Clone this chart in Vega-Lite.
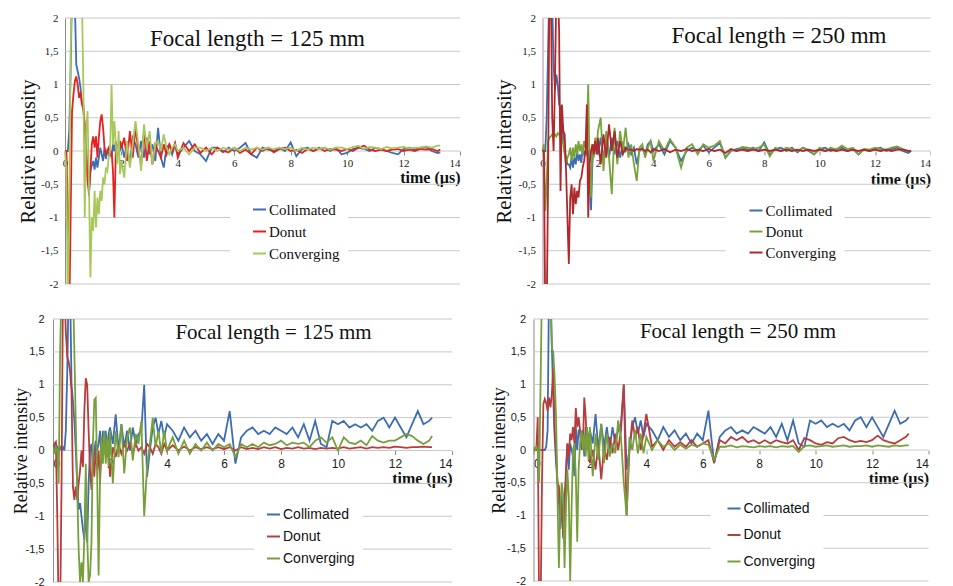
{
"$schema": "https://vega.github.io/schema/vega-lite/v6.json",
"background": "white",
"padding": {"left": 12, "top": 12, "right": 0, "bottom": 0},
"config": {
 "view": {"stroke": null},
 "axis": {"domainColor": "#8c8c8c", "tickColor": "#8c8c8c", "labelColor": "#222", "titleColor": "#111"},
 "legend": {"symbolType": "stroke", "symbolStrokeWidth": 2, "symbolSize": 169, "fillColor": "white", "padding": 8, "labelOffset": 2, "labelColor": "#111"},
 "title": {"font": "Liberation Serif", "fontSize": 23, "fontWeight": "normal", "frame": "group", "anchor": "middle", "baseline": "middle", "color": "#111"}
},
"datasets": {
"grid": [{"g":-2},{"g":-1.5},{"g":-1},{"g":-0.5},{"g":0},{"g":0.5},{"g":1},{"g":1.5},{"g":2}],
"tl": [
{"t":0,"Collimated":0,"Donut":0,"Converging":0},
{"t":0.05,"Collimated":0,"Donut":0,"Converging":-0.3},
{"t":0.1,"Collimated":0,"Donut":-0.8,"Converging":-2.5},
{"t":0.15,"Collimated":0.3,"Donut":-2.5,"Converging":-1.0},
{"t":0.2,"Collimated":1.2,"Donut":-1.0,"Converging":1.5},
{"t":0.25,"Collimated":2.5,"Donut":0.6,"Converging":2.5},
{"t":0.3,"Collimated":2.5,"Donut":0.85,"Converging":2.5},
{"t":0.35,"Collimated":2.2,"Donut":1.05,"Converging":2.5},
{"t":0.4,"Collimated":1.3,"Donut":1.12,"Converging":2.5},
{"t":0.45,"Collimated":1.2,"Donut":1.0,"Converging":2.5},
{"t":0.5,"Collimated":1.1,"Donut":0.8,"Converging":2.5},
{"t":0.55,"Collimated":0.95,"Donut":0.88,"Converging":2.5},
{"t":0.6,"Collimated":0.72,"Donut":0.7,"Converging":2.3},
{"t":0.65,"Collimated":0.7,"Donut":0.62,"Converging":1.0},
{"t":0.7,"Collimated":0.3,"Donut":0.4,"Converging":-1.0},
{"t":0.75,"Collimated":0.0,"Donut":0.05,"Converging":0.3},
{"t":0.8,"Collimated":-0.3,"Donut":-0.45,"Converging":0.6},
{"t":0.85,"Collimated":-0.68,"Donut":-0.6,"Converging":-0.5},
{"t":0.9,"Collimated":-0.3,"Donut":-0.3,"Converging":-1.9},
{"t":0.95,"Collimated":-0.22,"Donut":0.1,"Converging":-1.0},
{"t":1.0,"Collimated":-0.15,"Donut":0.22,"Converging":-1.2},
{"t":1.05,"Collimated":-0.28,"Donut":0.05,"Converging":-0.6},
{"t":1.1,"Collimated":-0.1,"Donut":0.22,"Converging":-1.15},
{"t":1.15,"Collimated":-0.25,"Donut":-0.1,"Converging":-0.7},
{"t":1.2,"Collimated":-0.1,"Donut":0.2,"Converging":-0.95},
{"t":1.25,"Collimated":0.05,"Donut":0.45,"Converging":-0.6},
{"t":1.3,"Collimated":-0.05,"Donut":0.55,"Converging":-0.75},
{"t":1.35,"Collimated":-0.15,"Donut":0.35,"Converging":-0.4},
{"t":1.4,"Collimated":0.05,"Donut":0.05,"Converging":-0.5},
{"t":1.45,"Collimated":-0.12,"Donut":-0.05,"Converging":-0.25},
{"t":1.5,"Collimated":0.0,"Donut":0.0,"Converging":-0.3},
{"t":1.55,"Collimated":-0.05,"Donut":0.05,"Converging":-0.1},
{"t":1.6,"Collimated":0.0,"Donut":-0.05,"Converging":0.0},
{"t":1.65,"Collimated":-0.1,"Donut":0.0,"Converging":1.0},
{"t":1.7,"Collimated":0.1,"Donut":-0.3,"Converging":0.1},
{"t":1.75,"Collimated":0.0,"Donut":-1.0,"Converging":0.45},
{"t":1.8,"Collimated":0.15,"Donut":0.0,"Converging":0.1},
{"t":1.85,"Collimated":-0.1,"Donut":0.1,"Converging":-0.2},
{"t":1.9,"Collimated":0.1,"Donut":-0.05,"Converging":0.3},
{"t":1.95,"Collimated":0.0,"Donut":0.15,"Converging":-0.35},
{"t":2.0,"Collimated":0.12,"Donut":0.05,"Converging":-0.15},
{"t":2.1,"Collimated":-0.1,"Donut":0.2,"Converging":-0.4},
{"t":2.2,"Collimated":0.1,"Donut":-0.15,"Converging":0.15},
{"t":2.3,"Collimated":-0.2,"Donut":0.3,"Converging":-0.25},
{"t":2.4,"Collimated":0.2,"Donut":-0.1,"Converging":0.1},
{"t":2.5,"Collimated":0.1,"Donut":0.35,"Converging":0.45},
{"t":2.6,"Collimated":-0.1,"Donut":0.0,"Converging":0.1},
{"t":2.7,"Collimated":0.15,"Donut":-0.2,"Converging":-0.3},
{"t":2.8,"Collimated":-0.1,"Donut":0.3,"Converging":0.4},
{"t":2.9,"Collimated":0.2,"Donut":-0.15,"Converging":0.05},
{"t":3.0,"Collimated":-0.05,"Donut":0.15,"Converging":0.3},
{"t":3.1,"Collimated":0.1,"Donut":-0.2,"Converging":-0.2},
{"t":3.2,"Collimated":-0.15,"Donut":0.1,"Converging":0.1},
{"t":3.3,"Collimated":0.35,"Donut":0.0,"Converging":0.15},
{"t":3.4,"Collimated":-0.1,"Donut":-0.1,"Converging":0.0},
{"t":3.5,"Collimated":-0.25,"Donut":0.1,"Converging":0.25},
{"t":3.6,"Collimated":0.05,"Donut":-0.05,"Converging":0.05},
{"t":3.7,"Collimated":0.1,"Donut":0.1,"Converging":-0.05},
{"t":3.8,"Collimated":-0.05,"Donut":0.0,"Converging":0.05},
{"t":3.9,"Collimated":0.1,"Donut":0.12,"Converging":0.1},
{"t":4.0,"Collimated":-0.05,"Donut":-0.1,"Converging":0.0},
{"t":4.2,"Collimated":0.05,"Donut":0.12,"Converging":0.05},
{"t":4.4,"Collimated":0.15,"Donut":0.0,"Converging":-0.05},
{"t":4.6,"Collimated":0.0,"Donut":0.1,"Converging":0.05},
{"t":4.8,"Collimated":-0.05,"Donut":-0.03,"Converging":0.05},
{"t":5.0,"Collimated":-0.15,"Donut":0.05,"Converging":0.0},
{"t":5.2,"Collimated":0.05,"Donut":-0.05,"Converging":0.05},
{"t":5.4,"Collimated":0.05,"Donut":0.05,"Converging":0.0},
{"t":5.6,"Collimated":-0.02,"Donut":0.0,"Converging":0.05},
{"t":5.8,"Collimated":0.05,"Donut":-0.02,"Converging":0.02},
{"t":6.0,"Collimated":0.0,"Donut":0.05,"Converging":0.05},
{"t":6.2,"Collimated":0.05,"Donut":-0.03,"Converging":0.0},
{"t":6.4,"Collimated":0.12,"Donut":0.02,"Converging":0.05},
{"t":6.6,"Collimated":-0.05,"Donut":-0.05,"Converging":0.02},
{"t":6.8,"Collimated":-0.1,"Donut":0.05,"Converging":0.05},
{"t":7.0,"Collimated":0.05,"Donut":0.0,"Converging":0.02},
{"t":7.2,"Collimated":0.02,"Donut":0.05,"Converging":0.05},
{"t":7.4,"Collimated":0.0,"Donut":-0.02,"Converging":0.03},
{"t":7.6,"Collimated":0.05,"Donut":0.03,"Converging":0.05},
{"t":7.8,"Collimated":0.0,"Donut":0.05,"Converging":0.03},
{"t":8.0,"Collimated":0.13,"Donut":0.0,"Converging":0.05},
{"t":8.2,"Collimated":-0.08,"Donut":0.02,"Converging":0.0},
{"t":8.4,"Collimated":0.03,"Donut":-0.03,"Converging":0.05},
{"t":8.6,"Collimated":0.05,"Donut":0.03,"Converging":0.02},
{"t":8.8,"Collimated":0.0,"Donut":0.0,"Converging":0.05},
{"t":9.0,"Collimated":0.03,"Donut":0.05,"Converging":0.03},
{"t":9.2,"Collimated":0.05,"Donut":0.0,"Converging":0.05},
{"t":9.4,"Collimated":0.0,"Donut":0.03,"Converging":0.02},
{"t":9.6,"Collimated":0.05,"Donut":0.02,"Converging":0.05},
{"t":9.8,"Collimated":-0.05,"Donut":0.0,"Converging":0.05},
{"t":10.0,"Collimated":-0.03,"Donut":0.03,"Converging":0.03},
{"t":10.2,"Collimated":0.03,"Donut":0.0,"Converging":0.06},
{"t":10.4,"Collimated":0.05,"Donut":0.05,"Converging":0.08},
{"t":10.6,"Collimated":0.03,"Donut":0.08,"Converging":0.03},
{"t":10.8,"Collimated":0.0,"Donut":0.02,"Converging":0.06},
{"t":11.0,"Collimated":0.05,"Donut":0.0,"Converging":0.05},
{"t":11.2,"Collimated":0.03,"Donut":0.02,"Converging":0.03},
{"t":11.4,"Collimated":0.0,"Donut":0.0,"Converging":0.06},
{"t":11.6,"Collimated":-0.03,"Donut":0.02,"Converging":0.04},
{"t":11.8,"Collimated":-0.05,"Donut":0.03,"Converging":0.05},
{"t":12.0,"Collimated":0.03,"Donut":0.0,"Converging":0.06},
{"t":12.2,"Collimated":0.05,"Donut":0.02,"Converging":0.04},
{"t":12.4,"Collimated":0.02,"Donut":0.0,"Converging":0.05},
{"t":12.6,"Collimated":0.05,"Donut":0.03,"Converging":0.05},
{"t":12.8,"Collimated":0.06,"Donut":0.02,"Converging":0.07},
{"t":13.0,"Collimated":0.0,"Donut":0.03,"Converging":0.05},
{"t":13.2,"Collimated":-0.03,"Donut":0.0,"Converging":0.08},
{"t":13.3,"Collimated":-0.02,"Donut":0.02,"Converging":0.08}
],
"tr": [
{"t":0,"Collimated":0,"Donut":0,"Converging":0},
{"t":0.05,"Collimated":0,"Donut":0.1,"Converging":0},
{"t":0.1,"Collimated":0,"Donut":-0.9,"Converging":-2.5},
{"t":0.15,"Collimated":0.5,"Donut":-0.5,"Converging":-2.5},
{"t":0.2,"Collimated":1.5,"Donut":0.15,"Converging":-0.5},
{"t":0.25,"Collimated":2.5,"Donut":0.2,"Converging":2.5},
{"t":0.3,"Collimated":2.5,"Donut":0.22,"Converging":2.5},
{"t":0.35,"Collimated":2.2,"Donut":0.25,"Converging":0.5},
{"t":0.4,"Collimated":1.3,"Donut":0.2,"Converging":0.0},
{"t":0.45,"Collimated":0.92,"Donut":0.25,"Converging":1.0},
{"t":0.5,"Collimated":1.15,"Donut":0.22,"Converging":2.5},
{"t":0.55,"Collimated":1.0,"Donut":0.27,"Converging":2.5},
{"t":0.6,"Collimated":0.7,"Donut":0.25,"Converging":1.8},
{"t":0.65,"Collimated":0.65,"Donut":0.2,"Converging":-0.6},
{"t":0.7,"Collimated":0.45,"Donut":0.22,"Converging":0.7},
{"t":0.75,"Collimated":0.2,"Donut":0.1,"Converging":0.3},
{"t":0.8,"Collimated":0.0,"Donut":-0.05,"Converging":0.25},
{"t":0.85,"Collimated":-0.1,"Donut":-0.2,"Converging":-0.3},
{"t":0.9,"Collimated":-0.2,"Donut":-0.1,"Converging":-1.0},
{"t":0.95,"Collimated":-0.2,"Donut":-0.05,"Converging":-1.7},
{"t":1.0,"Collimated":-0.25,"Donut":0.05,"Converging":-0.7},
{"t":1.05,"Collimated":-0.1,"Donut":-0.15,"Converging":-0.5},
{"t":1.1,"Collimated":-0.25,"Donut":0.05,"Converging":-0.95},
{"t":1.15,"Collimated":-0.1,"Donut":-0.1,"Converging":-0.55},
{"t":1.2,"Collimated":-0.2,"Donut":0.1,"Converging":-0.8},
{"t":1.25,"Collimated":0.0,"Donut":-0.05,"Converging":-0.6},
{"t":1.3,"Collimated":-0.15,"Donut":0.15,"Converging":-0.7},
{"t":1.35,"Collimated":-0.05,"Donut":0.0,"Converging":-0.45},
{"t":1.4,"Collimated":-0.18,"Donut":0.1,"Converging":-0.4},
{"t":1.45,"Collimated":0.05,"Donut":-0.05,"Converging":-0.25},
{"t":1.5,"Collimated":-0.05,"Donut":0.15,"Converging":-0.15},
{"t":1.55,"Collimated":0.0,"Donut":0.05,"Converging":0.0},
{"t":1.6,"Collimated":-0.05,"Donut":0.3,"Converging":0.7},
{"t":1.65,"Collimated":0.0,"Donut":1.0,"Converging":-1.0},
{"t":1.7,"Collimated":-0.3,"Donut":-0.3,"Converging":-0.2},
{"t":1.75,"Collimated":-0.89,"Donut":-0.7,"Converging":0.0},
{"t":1.8,"Collimated":-0.2,"Donut":0.1,"Converging":0.1},
{"t":1.85,"Collimated":0.1,"Donut":-0.1,"Converging":-0.05},
{"t":1.9,"Collimated":0.05,"Donut":0.2,"Converging":0.15},
{"t":1.95,"Collimated":0.15,"Donut":0.05,"Converging":-0.05},
{"t":2.0,"Collimated":-0.05,"Donut":0.3,"Converging":0.2},
{"t":2.1,"Collimated":0.2,"Donut":0.5,"Converging":-0.2},
{"t":2.2,"Collimated":-0.15,"Donut":-0.3,"Converging":0.25},
{"t":2.3,"Collimated":0.25,"Donut":0.3,"Converging":-0.1},
{"t":2.4,"Collimated":-0.1,"Donut":-0.1,"Converging":0.4},
{"t":2.5,"Collimated":0.2,"Donut":-0.65,"Converging":0.0},
{"t":2.6,"Collimated":-0.05,"Donut":0.35,"Converging":0.3},
{"t":2.7,"Collimated":0.15,"Donut":-0.2,"Converging":-0.1},
{"t":2.8,"Collimated":-0.1,"Donut":0.3,"Converging":0.15},
{"t":2.9,"Collimated":0.1,"Donut":0.0,"Converging":-0.05},
{"t":3.0,"Collimated":0.0,"Donut":0.35,"Converging":0.05},
{"t":3.1,"Collimated":0.1,"Donut":-0.1,"Converging":0.02},
{"t":3.2,"Collimated":-0.05,"Donut":0.1,"Converging":0.02},
{"t":3.3,"Collimated":0.05,"Donut":-0.2,"Converging":0.0},
{"t":3.4,"Collimated":-0.2,"Donut":-0.45,"Converging":0.03},
{"t":3.5,"Collimated":0.0,"Donut":0.05,"Converging":0.02},
{"t":3.6,"Collimated":0.05,"Donut":0.1,"Converging":0.03},
{"t":3.7,"Collimated":-0.05,"Donut":-0.1,"Converging":0.0},
{"t":3.8,"Collimated":0.1,"Donut":0.05,"Converging":0.02},
{"t":3.9,"Collimated":0.15,"Donut":0.15,"Converging":-0.02},
{"t":4.0,"Collimated":0.0,"Donut":-0.15,"Converging":0.03},
{"t":4.2,"Collimated":0.1,"Donut":0.15,"Converging":0.0},
{"t":4.4,"Collimated":-0.05,"Donut":0.0,"Converging":0.03},
{"t":4.6,"Collimated":0.15,"Donut":0.18,"Converging":-0.02},
{"t":4.8,"Collimated":0.05,"Donut":0.05,"Converging":0.02},
{"t":5.0,"Collimated":-0.15,"Donut":-0.25,"Converging":0.0},
{"t":5.2,"Collimated":0.0,"Donut":0.05,"Converging":0.03},
{"t":5.4,"Collimated":0.05,"Donut":0.1,"Converging":0.0},
{"t":5.6,"Collimated":0.0,"Donut":-0.05,"Converging":0.02},
{"t":5.8,"Collimated":0.08,"Donut":0.1,"Converging":0.0},
{"t":6.0,"Collimated":-0.02,"Donut":0.05,"Converging":0.03},
{"t":6.2,"Collimated":0.05,"Donut":0.08,"Converging":0.0},
{"t":6.4,"Collimated":0.12,"Donut":0.15,"Converging":0.02},
{"t":6.6,"Collimated":-0.1,"Donut":-0.1,"Converging":-0.03},
{"t":6.8,"Collimated":0.0,"Donut":0.02,"Converging":0.03},
{"t":7.0,"Collimated":0.03,"Donut":0.0,"Converging":0.0},
{"t":7.2,"Collimated":0.05,"Donut":0.06,"Converging":0.02},
{"t":7.4,"Collimated":0.02,"Donut":0.05,"Converging":0.0},
{"t":7.6,"Collimated":0.05,"Donut":0.03,"Converging":0.02},
{"t":7.8,"Collimated":0.0,"Donut":0.05,"Converging":0.0},
{"t":8.0,"Collimated":0.13,"Donut":0.1,"Converging":0.02},
{"t":8.2,"Collimated":-0.05,"Donut":-0.08,"Converging":0.0},
{"t":8.4,"Collimated":0.03,"Donut":0.05,"Converging":0.02},
{"t":8.6,"Collimated":0.05,"Donut":0.0,"Converging":0.0},
{"t":8.8,"Collimated":0.0,"Donut":0.05,"Converging":0.02},
{"t":9.0,"Collimated":0.05,"Donut":0.03,"Converging":0.0},
{"t":9.2,"Collimated":-0.02,"Donut":0.0,"Converging":0.02},
{"t":9.4,"Collimated":0.05,"Donut":0.05,"Converging":0.0},
{"t":9.6,"Collimated":0.0,"Donut":0.02,"Converging":0.02},
{"t":9.8,"Collimated":-0.05,"Donut":-0.05,"Converging":0.0},
{"t":10.0,"Collimated":0.03,"Donut":0.05,"Converging":0.02},
{"t":10.2,"Collimated":0.05,"Donut":0.0,"Converging":0.0},
{"t":10.4,"Collimated":0.0,"Donut":0.05,"Converging":0.02},
{"t":10.6,"Collimated":0.03,"Donut":0.02,"Converging":0.0},
{"t":10.8,"Collimated":0.05,"Donut":0.08,"Converging":0.02},
{"t":11.0,"Collimated":0.0,"Donut":0.03,"Converging":0.0},
{"t":11.2,"Collimated":0.03,"Donut":0.05,"Converging":0.02},
{"t":11.4,"Collimated":-0.05,"Donut":-0.05,"Converging":0.0},
{"t":11.6,"Collimated":0.02,"Donut":0.03,"Converging":0.02},
{"t":11.8,"Collimated":0.0,"Donut":0.02,"Converging":0.0},
{"t":12.0,"Collimated":0.03,"Donut":0.05,"Converging":0.02},
{"t":12.2,"Collimated":0.05,"Donut":0.03,"Converging":0.0},
{"t":12.4,"Collimated":0.0,"Donut":0.02,"Converging":0.02},
{"t":12.6,"Collimated":0.03,"Donut":0.05,"Converging":0.0},
{"t":12.8,"Collimated":0.05,"Donut":0.07,"Converging":0.02},
{"t":13.0,"Collimated":0.0,"Donut":0.03,"Converging":0.02},
{"t":13.2,"Collimated":-0.03,"Donut":0.0,"Converging":0.0},
{"t":13.3,"Collimated":0.0,"Donut":0.0,"Converging":0.0}
],
"bl": [
{"t":0,"Collimated":0.05,"Donut":0,"Converging":0.05},
{"t":0.05,"Collimated":0.0,"Donut":0.1,"Converging":-0.05},
{"t":0.1,"Collimated":0.1,"Donut":0.13,"Converging":0.05},
{"t":0.15,"Collimated":0.05,"Donut":-1.0,"Converging":0.0},
{"t":0.2,"Collimated":0.0,"Donut":-2.5,"Converging":-0.5},
{"t":0.25,"Collimated":0.05,"Donut":-2.5,"Converging":1.5},
{"t":0.3,"Collimated":0.0,"Donut":-0.5,"Converging":2.5},
{"t":0.35,"Collimated":0.05,"Donut":2.5,"Converging":2.5},
{"t":0.4,"Collimated":0.0,"Donut":2.5,"Converging":2.5},
{"t":0.45,"Collimated":0.3,"Donut":1.8,"Converging":2.5},
{"t":0.5,"Collimated":1.2,"Donut":1.43,"Converging":2.5},
{"t":0.55,"Collimated":2.5,"Donut":1.35,"Converging":2.5},
{"t":0.6,"Collimated":2.5,"Donut":1.2,"Converging":2.5},
{"t":0.65,"Collimated":1.0,"Donut":0.9,"Converging":2.5},
{"t":0.7,"Collimated":0.75,"Donut":-0.55,"Converging":2.5},
{"t":0.75,"Collimated":0.45,"Donut":-0.75,"Converging":1.5},
{"t":0.8,"Collimated":0.0,"Donut":-0.55,"Converging":0.4},
{"t":0.85,"Collimated":-0.5,"Donut":-0.75,"Converging":-0.6},
{"t":0.9,"Collimated":-0.9,"Donut":-0.5,"Converging":-1.5},
{"t":0.95,"Collimated":-0.8,"Donut":-0.3,"Converging":-2.0},
{"t":1.0,"Collimated":-1.0,"Donut":0.0,"Converging":-1.7},
{"t":1.05,"Collimated":-1.2,"Donut":-0.25,"Converging":-2.0},
{"t":1.1,"Collimated":-1.36,"Donut":0.6,"Converging":-1.3},
{"t":1.15,"Collimated":-0.9,"Donut":1.1,"Converging":-0.2},
{"t":1.2,"Collimated":-1.4,"Donut":1.0,"Converging":-1.3},
{"t":1.25,"Collimated":-0.5,"Donut":0.3,"Converging":-2.0},
{"t":1.3,"Collimated":0.0,"Donut":-0.3,"Converging":-1.9},
{"t":1.35,"Collimated":0.1,"Donut":-0.6,"Converging":-1.4},
{"t":1.4,"Collimated":-0.25,"Donut":-0.1,"Converging":0.1},
{"t":1.45,"Collimated":0.0,"Donut":-0.4,"Converging":0.77},
{"t":1.5,"Collimated":0.15,"Donut":0.05,"Converging":0.8},
{"t":1.55,"Collimated":0.0,"Donut":-0.3,"Converging":-0.4},
{"t":1.6,"Collimated":0.1,"Donut":0.0,"Converging":-1.9},
{"t":1.65,"Collimated":0.3,"Donut":-0.5,"Converging":-0.4},
{"t":1.7,"Collimated":-0.1,"Donut":0.0,"Converging":0.2},
{"t":1.75,"Collimated":0.3,"Donut":0.15,"Converging":-0.2},
{"t":1.8,"Collimated":0.0,"Donut":-0.05,"Converging":0.3},
{"t":1.85,"Collimated":0.3,"Donut":0.1,"Converging":-0.2},
{"t":1.9,"Collimated":0.0,"Donut":-0.1,"Converging":0.2},
{"t":1.95,"Collimated":0.25,"Donut":0.0,"Converging":-0.25},
{"t":2.0,"Collimated":0.35,"Donut":-0.4,"Converging":0.3},
{"t":2.1,"Collimated":0.1,"Donut":0.05,"Converging":-0.5},
{"t":2.2,"Collimated":0.55,"Donut":-0.1,"Converging":0.3},
{"t":2.3,"Collimated":0.0,"Donut":0.1,"Converging":-0.1},
{"t":2.4,"Collimated":0.4,"Donut":-0.05,"Converging":0.4},
{"t":2.5,"Collimated":0.05,"Donut":0.1,"Converging":-0.35},
{"t":2.6,"Collimated":0.3,"Donut":0.0,"Converging":0.2},
{"t":2.7,"Collimated":0.0,"Donut":0.1,"Converging":0.35},
{"t":2.8,"Collimated":0.35,"Donut":-0.05,"Converging":-0.15},
{"t":2.9,"Collimated":0.1,"Donut":0.1,"Converging":0.25},
{"t":3.0,"Collimated":0.25,"Donut":0.0,"Converging":0.1},
{"t":3.1,"Collimated":0.3,"Donut":0.05,"Converging":0.45},
{"t":3.2,"Collimated":1.0,"Donut":-0.05,"Converging":-1.0},
{"t":3.3,"Collimated":-0.4,"Donut":0.1,"Converging":-0.25},
{"t":3.4,"Collimated":0.0,"Donut":0.05,"Converging":0.1},
{"t":3.5,"Collimated":0.35,"Donut":-0.05,"Converging":0.5},
{"t":3.6,"Collimated":0.5,"Donut":0.1,"Converging":0.05},
{"t":3.7,"Collimated":0.25,"Donut":0.05,"Converging":0.3},
{"t":3.8,"Collimated":0.45,"Donut":-0.05,"Converging":-0.05},
{"t":3.9,"Collimated":0.2,"Donut":0.1,"Converging":0.3},
{"t":4.0,"Collimated":0.4,"Donut":0.0,"Converging":0.0},
{"t":4.2,"Collimated":0.3,"Donut":0.08,"Converging":0.2},
{"t":4.4,"Collimated":0.15,"Donut":0.0,"Converging":-0.05},
{"t":4.6,"Collimated":0.35,"Donut":0.06,"Converging":0.15},
{"t":4.8,"Collimated":0.2,"Donut":0.0,"Converging":-0.05},
{"t":5.0,"Collimated":0.3,"Donut":0.05,"Converging":0.1},
{"t":5.2,"Collimated":0.15,"Donut":0.02,"Converging":0.0},
{"t":5.4,"Collimated":0.25,"Donut":0.05,"Converging":0.12},
{"t":5.6,"Collimated":0.1,"Donut":0.02,"Converging":0.0},
{"t":5.8,"Collimated":0.25,"Donut":0.05,"Converging":0.1},
{"t":6.0,"Collimated":0.15,"Donut":0.02,"Converging":0.05},
{"t":6.2,"Collimated":0.6,"Donut":0.05,"Converging":0.1},
{"t":6.4,"Collimated":-0.2,"Donut":0.0,"Converging":-0.1},
{"t":6.6,"Collimated":0.2,"Donut":0.05,"Converging":0.1},
{"t":6.8,"Collimated":0.3,"Donut":0.02,"Converging":0.05},
{"t":7.0,"Collimated":0.35,"Donut":0.04,"Converging":0.1},
{"t":7.2,"Collimated":0.25,"Donut":0.02,"Converging":0.05},
{"t":7.4,"Collimated":0.3,"Donut":0.05,"Converging":0.12},
{"t":7.6,"Collimated":0.25,"Donut":0.03,"Converging":0.08},
{"t":7.8,"Collimated":0.35,"Donut":0.05,"Converging":0.1},
{"t":8.0,"Collimated":0.3,"Donut":0.02,"Converging":0.15},
{"t":8.2,"Collimated":0.25,"Donut":0.04,"Converging":0.08},
{"t":8.4,"Collimated":0.35,"Donut":0.03,"Converging":0.12},
{"t":8.6,"Collimated":0.2,"Donut":0.05,"Converging":0.1},
{"t":8.8,"Collimated":0.4,"Donut":0.03,"Converging":0.12},
{"t":9.0,"Collimated":0.15,"Donut":0.04,"Converging":0.05},
{"t":9.2,"Collimated":0.45,"Donut":0.02,"Converging":0.15},
{"t":9.4,"Collimated":0.1,"Donut":0.04,"Converging":0.2},
{"t":9.6,"Collimated":0.05,"Donut":0.03,"Converging":0.12},
{"t":9.8,"Collimated":0.45,"Donut":0.04,"Converging":0.2},
{"t":10.0,"Collimated":0.4,"Donut":0.03,"Converging":0.0},
{"t":10.2,"Collimated":0.45,"Donut":0.05,"Converging":0.2},
{"t":10.4,"Collimated":0.35,"Donut":0.03,"Converging":0.12},
{"t":10.6,"Collimated":0.4,"Donut":0.04,"Converging":0.1},
{"t":10.8,"Collimated":0.35,"Donut":0.05,"Converging":0.15},
{"t":11.0,"Collimated":0.4,"Donut":0.03,"Converging":0.08},
{"t":11.2,"Collimated":0.3,"Donut":0.05,"Converging":0.22},
{"t":11.4,"Collimated":0.45,"Donut":0.04,"Converging":0.15},
{"t":11.6,"Collimated":0.5,"Donut":0.05,"Converging":0.12},
{"t":11.8,"Collimated":0.35,"Donut":0.04,"Converging":0.15},
{"t":12.0,"Collimated":0.5,"Donut":0.06,"Converging":0.15},
{"t":12.2,"Collimated":0.35,"Donut":0.05,"Converging":0.2},
{"t":12.4,"Collimated":0.2,"Donut":0.04,"Converging":0.25},
{"t":12.6,"Collimated":0.4,"Donut":0.05,"Converging":0.22},
{"t":12.8,"Collimated":0.6,"Donut":0.05,"Converging":0.15},
{"t":13.0,"Collimated":0.4,"Donut":0.06,"Converging":0.1},
{"t":13.2,"Collimated":0.45,"Donut":0.05,"Converging":0.15},
{"t":13.3,"Collimated":0.5,"Donut":0.05,"Converging":0.22}
],
"br": [
{"t":0,"Collimated":0.0,"Donut":0.0,"Converging":0.05},
{"t":0.05,"Collimated":0.02,"Donut":0.0,"Converging":0.0},
{"t":0.1,"Collimated":0.0,"Donut":0.0,"Converging":0.05},
{"t":0.15,"Collimated":0.0,"Donut":0.5,"Converging":0.0},
{"t":0.2,"Collimated":0.0,"Donut":-2.5,"Converging":-0.5},
{"t":0.25,"Collimated":0.0,"Donut":-2.5,"Converging":1.0},
{"t":0.3,"Collimated":0.0,"Donut":-0.5,"Converging":2.5},
{"t":0.35,"Collimated":0.0,"Donut":0.7,"Converging":2.5},
{"t":0.4,"Collimated":0.0,"Donut":0.78,"Converging":2.5},
{"t":0.45,"Collimated":0.05,"Donut":0.72,"Converging":2.5},
{"t":0.5,"Collimated":0.3,"Donut":0.6,"Converging":2.5},
{"t":0.55,"Collimated":2.5,"Donut":0.8,"Converging":2.5},
{"t":0.6,"Collimated":2.5,"Donut":0.65,"Converging":2.5},
{"t":0.65,"Collimated":1.6,"Donut":0.85,"Converging":1.55},
{"t":0.7,"Collimated":0.8,"Donut":1.25,"Converging":1.5},
{"t":0.75,"Collimated":0.2,"Donut":0.3,"Converging":1.1},
{"t":0.8,"Collimated":-0.2,"Donut":0.0,"Converging":0.5},
{"t":0.85,"Collimated":-0.5,"Donut":-0.5,"Converging":-0.7},
{"t":0.9,"Collimated":-0.8,"Donut":-0.55,"Converging":-1.8},
{"t":0.95,"Collimated":-1.2,"Donut":-0.9,"Converging":-0.9},
{"t":1.0,"Collimated":-0.7,"Donut":-0.8,"Converging":-0.5},
{"t":1.05,"Collimated":-1.35,"Donut":-1.3,"Converging":-0.7},
{"t":1.1,"Collimated":-0.9,"Donut":-0.7,"Converging":-1.8},
{"t":1.15,"Collimated":-0.3,"Donut":-0.45,"Converging":-0.9},
{"t":1.2,"Collimated":0.1,"Donut":0.1,"Converging":-0.3},
{"t":1.25,"Collimated":-0.3,"Donut":-0.1,"Converging":-0.7},
{"t":1.3,"Collimated":0.1,"Donut":0.25,"Converging":-2.0},
{"t":1.35,"Collimated":0.0,"Donut":0.15,"Converging":-0.9},
{"t":1.4,"Collimated":-0.1,"Donut":0.35,"Converging":0.0},
{"t":1.45,"Collimated":-0.4,"Donut":0.1,"Converging":0.1},
{"t":1.5,"Collimated":0.35,"Donut":0.64,"Converging":-0.4},
{"t":1.55,"Collimated":0.0,"Donut":0.35,"Converging":-1.4},
{"t":1.6,"Collimated":0.3,"Donut":0.5,"Converging":-0.3},
{"t":1.65,"Collimated":0.3,"Donut":0.3,"Converging":0.1},
{"t":1.7,"Collimated":0.0,"Donut":0.1,"Converging":0.3},
{"t":1.75,"Collimated":0.3,"Donut":0.0,"Converging":0.0},
{"t":1.8,"Collimated":-0.1,"Donut":0.8,"Converging":0.25},
{"t":1.85,"Collimated":0.35,"Donut":0.5,"Converging":-0.1},
{"t":1.9,"Collimated":0.0,"Donut":0.0,"Converging":0.35},
{"t":1.95,"Collimated":0.2,"Donut":0.25,"Converging":-0.15},
{"t":2.0,"Collimated":0.3,"Donut":-0.2,"Converging":0.35},
{"t":2.1,"Collimated":0.1,"Donut":0.0,"Converging":-0.4},
{"t":2.2,"Collimated":0.55,"Donut":-0.3,"Converging":0.25},
{"t":2.3,"Collimated":0.0,"Donut":0.1,"Converging":-0.15},
{"t":2.4,"Collimated":0.4,"Donut":-0.45,"Converging":0.4},
{"t":2.5,"Collimated":0.05,"Donut":0.05,"Converging":-0.2},
{"t":2.6,"Collimated":0.35,"Donut":-0.15,"Converging":0.25},
{"t":2.7,"Collimated":0.0,"Donut":0.2,"Converging":-0.1},
{"t":2.8,"Collimated":0.35,"Donut":-0.05,"Converging":0.1},
{"t":2.9,"Collimated":0.1,"Donut":0.25,"Converging":-0.05},
{"t":3.0,"Collimated":0.3,"Donut":0.0,"Converging":0.45},
{"t":3.1,"Collimated":0.4,"Donut":0.3,"Converging":0.2},
{"t":3.2,"Collimated":1.0,"Donut":1.0,"Converging":-0.5},
{"t":3.3,"Collimated":-0.3,"Donut":-1.0,"Converging":-1.0},
{"t":3.4,"Collimated":0.0,"Donut":0.0,"Converging":0.2},
{"t":3.5,"Collimated":0.35,"Donut":0.45,"Converging":0.0},
{"t":3.6,"Collimated":0.5,"Donut":0.2,"Converging":0.3},
{"t":3.7,"Collimated":0.25,"Donut":0.35,"Converging":-0.05},
{"t":3.8,"Collimated":0.45,"Donut":0.0,"Converging":0.25},
{"t":3.9,"Collimated":0.2,"Donut":0.25,"Converging":-0.05},
{"t":4.0,"Collimated":0.4,"Donut":0.55,"Converging":0.2},
{"t":4.2,"Collimated":0.3,"Donut":0.05,"Converging":0.0},
{"t":4.4,"Collimated":0.15,"Donut":0.15,"Converging":0.15},
{"t":4.6,"Collimated":0.35,"Donut":0.0,"Converging":0.05},
{"t":4.8,"Collimated":0.2,"Donut":0.15,"Converging":0.1},
{"t":5.0,"Collimated":0.3,"Donut":0.05,"Converging":0.0},
{"t":5.2,"Collimated":0.15,"Donut":0.12,"Converging":0.08},
{"t":5.4,"Collimated":0.25,"Donut":0.05,"Converging":0.02},
{"t":5.6,"Collimated":0.1,"Donut":0.15,"Converging":0.08},
{"t":5.8,"Collimated":0.25,"Donut":0.05,"Converging":0.05},
{"t":6.0,"Collimated":0.15,"Donut":0.1,"Converging":0.1},
{"t":6.2,"Collimated":0.6,"Donut":0.15,"Converging":0.08},
{"t":6.4,"Collimated":-0.2,"Donut":-0.2,"Converging":-0.15},
{"t":6.6,"Collimated":0.2,"Donut":0.15,"Converging":0.05},
{"t":6.8,"Collimated":0.3,"Donut":0.1,"Converging":0.05},
{"t":7.0,"Collimated":0.35,"Donut":0.2,"Converging":0.07},
{"t":7.2,"Collimated":0.25,"Donut":0.15,"Converging":0.04},
{"t":7.4,"Collimated":0.3,"Donut":0.2,"Converging":0.06},
{"t":7.6,"Collimated":0.25,"Donut":0.12,"Converging":0.05},
{"t":7.8,"Collimated":0.35,"Donut":0.15,"Converging":0.04},
{"t":8.0,"Collimated":0.3,"Donut":0.1,"Converging":0.06},
{"t":8.2,"Collimated":0.25,"Donut":0.15,"Converging":0.05},
{"t":8.4,"Collimated":0.35,"Donut":0.1,"Converging":0.06},
{"t":8.6,"Collimated":0.2,"Donut":0.15,"Converging":0.04},
{"t":8.8,"Collimated":0.4,"Donut":0.12,"Converging":0.06},
{"t":9.0,"Collimated":0.15,"Donut":0.1,"Converging":0.05},
{"t":9.2,"Collimated":0.45,"Donut":0.15,"Converging":0.06},
{"t":9.4,"Collimated":0.1,"Donut":0.0,"Converging":-0.03},
{"t":9.6,"Collimated":0.05,"Donut":0.18,"Converging":0.06},
{"t":9.8,"Collimated":0.45,"Donut":0.15,"Converging":0.07},
{"t":10.0,"Collimated":0.4,"Donut":0.1,"Converging":0.05},
{"t":10.2,"Collimated":0.45,"Donut":0.08,"Converging":0.06},
{"t":10.4,"Collimated":0.35,"Donut":0.12,"Converging":0.07},
{"t":10.6,"Collimated":0.4,"Donut":0.1,"Converging":0.05},
{"t":10.8,"Collimated":0.35,"Donut":0.18,"Converging":0.06},
{"t":11.0,"Collimated":0.4,"Donut":0.2,"Converging":0.07},
{"t":11.2,"Collimated":0.3,"Donut":0.15,"Converging":0.05},
{"t":11.4,"Collimated":0.45,"Donut":0.12,"Converging":0.06},
{"t":11.6,"Collimated":0.5,"Donut":0.14,"Converging":0.06},
{"t":11.8,"Collimated":0.35,"Donut":0.12,"Converging":0.07},
{"t":12.0,"Collimated":0.5,"Donut":0.15,"Converging":0.05},
{"t":12.2,"Collimated":0.35,"Donut":0.22,"Converging":0.07},
{"t":12.4,"Collimated":0.2,"Donut":0.15,"Converging":0.06},
{"t":12.6,"Collimated":0.4,"Donut":0.12,"Converging":0.05},
{"t":12.8,"Collimated":0.6,"Donut":0.1,"Converging":0.07},
{"t":13.0,"Collimated":0.4,"Donut":0.15,"Converging":0.06},
{"t":13.2,"Collimated":0.45,"Donut":0.2,"Converging":0.07},
{"t":13.3,"Collimated":0.5,"Donut":0.25,"Converging":0.07}
]
},
"columns": 2,
"align": "each",
"spacing": {"row": 24, "column": 29.5},
"resolve": {"scale": {"color": "independent"}, "legend": {"color": "independent"}},
"concat": [
{
"width": 407, "height": 266,
"title": {"text": "Focal length = 125 mm", "dx": 1, "offset": -39},
"layer": [
{"data": {"name": "grid"}, "mark": {"type": "rule", "color": "#c8c8c8", "strokeWidth": 1},
 "encoding": {
 "y": {"field": "g", "type": "quantitative", "scale": {"domain": [-2,2], "nice": false, "zero": false}, "axis": {"values": [-2,-1.5,-1,-0.5,0,0.5,1,1.5,2], "offset": -12, "grid": false, "labelExpr": "replace(toString(datum.value), '.', ',')", "ticks": false, "labelPadding": 7, "labelFont": "Liberation Serif", "labelFontSize": 11, "title": "Relative intensity", "titleFont": "Liberation Serif", "titleFontSize": 20.5, "titleFontWeight": "normal", "titlePadding": 2}},
 "x": {"datum": 0, "type": "quantitative", "scale": {"domain": [-0.425,14], "nice": false}, "axis": {"values": [0,2,4,6,8,10,12,14], "offset": -133, "grid": false, "domain": false, "labelFont": "Liberation Serif", "labelFontSize": 11, "labelPadding": 2, "tickSize": 4, "title": "time (µs)", "titleAnchor": "end", "titleFont": "Liberation Serif", "titleFontSize": 16, "titleFontWeight": "bold", "titlePadding": 1}},
 "x2": {"datum": 14}}},
{"data": {"name": "tl"},
 "transform": [{"fold": ["Collimated","Donut","Converging"], "as": ["s","v"]}],
 "mark": {"type": "line", "clip": true, "strokeWidth": 1.8},
 "encoding": {
 "x": {"field": "t", "type": "quantitative", "scale": {"domain": [-0.425,14], "nice": false}, "axis": {"values": [0,2,4,6,8,10,12,14], "offset": -133, "grid": false, "domain": false, "labelFont": "Liberation Serif", "labelFontSize": 11, "labelPadding": 2, "tickSize": 4, "title": "time (µs)", "titleAnchor": "end", "titleFont": "Liberation Serif", "titleFontSize": 16, "titleFontWeight": "bold", "titlePadding": 1}},
 "y": {"field": "v", "type": "quantitative", "scale": {"domain": [-2,2], "nice": false, "zero": false}, "axis": {"values": [-2,-1.5,-1,-0.5,0,0.5,1,1.5,2], "offset": -12, "grid": false, "labelExpr": "replace(toString(datum.value), '.', ',')", "ticks": false, "labelPadding": 7, "labelFont": "Liberation Serif", "labelFontSize": 11, "title": "Relative intensity", "titleFont": "Liberation Serif", "titleFontSize": 20.5, "titleFontWeight": "normal", "titlePadding": 2}},
 "color": {"field": "s", "type": "nominal", "title": null, "scale": {"domain": ["Collimated","Donut","Converging"], "range": ["#3d6db4","#e4221f","#a8c85c"]}, "legend": {"orient": "none", "legendX": 177, "legendY": 176, "symbolOffset": 14, "labelFont": "Liberation Serif", "labelFontSize": 15, "rowPadding": 6}}
 }}
]
},
{
"width": 397, "height": 266,
"title": {"text": "Focal length = 250 mm", "dx": 47, "offset": -36},
"layer": [
{"data": {"name": "grid"}, "mark": {"type": "rule", "color": "#c8c8c8", "strokeWidth": 1},
 "encoding": {
 "y": {"field": "g", "type": "quantitative", "scale": {"domain": [-2,2], "nice": false, "zero": false}, "axis": {"values": [-2,-1.5,-1,-0.5,0,0.5,1,1.5,2], "offset": -9, "grid": false, "labelExpr": "replace(toString(datum.value), '.', ',')", "ticks": false, "domainColor": "#b08aa8", "labelPadding": 7, "labelFont": "Liberation Serif", "labelFontSize": 11, "title": "Relative intensity", "titleFont": "Liberation Serif", "titleFontSize": 20.5, "titleFontWeight": "normal", "titlePadding": 4}},
 "x": {"datum": 0, "type": "quantitative", "scale": {"domain": [-0.325,14], "nice": false}, "axis": {"values": [0,2,4,6,8,10,12,14], "offset": -133, "grid": false, "domain": false, "labelFont": "Liberation Serif", "labelFontSize": 11, "labelPadding": 2, "tickSize": 4, "title": "time (µs)", "titleAnchor": "end", "titleFont": "Liberation Serif", "titleFontSize": 16, "titleFontWeight": "bold", "titlePadding": 3}},
 "x2": {"datum": 14}}},
{"data": {"name": "tr"},
 "transform": [{"fold": ["Collimated","Donut","Converging"], "as": ["s","v"]}],
 "mark": {"type": "line", "clip": true, "strokeWidth": 1.8},
 "encoding": {
 "x": {"field": "t", "type": "quantitative", "scale": {"domain": [-0.325,14], "nice": false}, "axis": {"values": [0,2,4,6,8,10,12,14], "offset": -133, "grid": false, "domain": false, "labelFont": "Liberation Serif", "labelFontSize": 11, "labelPadding": 2, "tickSize": 4, "title": "time (µs)", "titleAnchor": "end", "titleFont": "Liberation Serif", "titleFontSize": 16, "titleFontWeight": "bold", "titlePadding": 3}},
 "y": {"field": "v", "type": "quantitative", "scale": {"domain": [-2,2], "nice": false, "zero": false}, "axis": {"values": [-2,-1.5,-1,-0.5,0,0.5,1,1.5,2], "offset": -9, "grid": false, "labelExpr": "replace(toString(datum.value), '.', ',')", "ticks": false, "domainColor": "#b08aa8", "labelPadding": 7, "labelFont": "Liberation Serif", "labelFontSize": 11, "title": "Relative intensity", "titleFont": "Liberation Serif", "titleFontSize": 20.5, "titleFontWeight": "normal", "titlePadding": 4}},
 "color": {"field": "s", "type": "nominal", "title": null, "scale": {"domain": ["Collimated","Donut","Converging"], "range": ["#3d6db4","#78a33a","#b0282a"]}, "legend": {"orient": "none", "legendX": 192, "legendY": 177, "symbolOffset": 15, "labelFont": "Liberation Serif", "labelFontSize": 15, "rowPadding": 5}}
 }}
]
},
{
"width": 399, "height": 263,
"title": {"text": "Focal length = 125 mm", "dx": 21, "offset": -30, "fontSize": 21},
"layer": [
{"data": {"name": "grid"}, "mark": {"type": "rule", "color": "#c8c8c8", "strokeWidth": 1},
 "encoding": {
 "y": {"field": "g", "type": "quantitative", "scale": {"domain": [-2,2], "nice": false, "zero": false}, "axis": {"values": [-2,-1.5,-1,-0.5,0,0.5,1,1.5,2], "grid": false, "labelExpr": "replace(toString(datum.value), '.', ',')", "ticks": false, "labelPadding": 9, "labelFont": "Liberation Sans", "labelFontSize": 11, "title": "Relative intensity", "titleFont": "Liberation Serif", "titleFontSize": 18, "titleFontWeight": "normal", "titlePadding": -5}},
 "x": {"datum": 0, "type": "quantitative", "scale": {"domain": [0,14], "nice": false}, "axis": {"values": [0,2,4,6,8,10,12,14], "offset": -131.5, "grid": false, "domain": false, "labelFont": "Liberation Sans", "labelFontSize": 12, "labelPadding": 4, "tickSize": 4, "title": "time (µs)", "titleAnchor": "end", "titleFont": "Liberation Serif", "titleFontSize": 16, "titleFontWeight": "bold", "titlePadding": 1}},
 "x2": {"datum": 14}}},
{"data": {"name": "bl"},
 "transform": [{"fold": ["Collimated","Donut","Converging"], "as": ["s","v"]}],
 "mark": {"type": "line", "clip": true, "strokeWidth": 1.8},
 "encoding": {
 "x": {"field": "t", "type": "quantitative", "scale": {"domain": [0,14], "nice": false}, "axis": {"values": [0,2,4,6,8,10,12,14], "offset": -131.5, "grid": false, "domain": false, "labelFont": "Liberation Sans", "labelFontSize": 12, "labelPadding": 4, "tickSize": 4, "title": "time (µs)", "titleAnchor": "end", "titleFont": "Liberation Serif", "titleFontSize": 16, "titleFontWeight": "bold", "titlePadding": 1}},
 "y": {"field": "v", "type": "quantitative", "scale": {"domain": [-2,2], "nice": false, "zero": false}, "axis": {"values": [-2,-1.5,-1,-0.5,0,0.5,1,1.5,2], "grid": false, "labelExpr": "replace(toString(datum.value), '.', ',')", "ticks": false, "labelPadding": 9, "labelFont": "Liberation Sans", "labelFontSize": 11, "title": "Relative intensity", "titleFont": "Liberation Serif", "titleFontSize": 18, "titleFontWeight": "normal", "titlePadding": -5}},
 "color": {"field": "s", "type": "nominal", "title": null, "scale": {"domain": ["Collimated","Donut","Converging"], "range": ["#3d6db0","#b83c3c","#77a03c"]}, "legend": {"orient": "none", "legendX": 201, "legendY": 180, "symbolOffset": 4, "labelFont": "Liberation Sans", "labelFontSize": 14, "rowPadding": 7}}
 }}
]
},
{
"width": 395, "height": 262,
"title": {"text": "Focal length = 250 mm", "dx": 7, "offset": -29, "fontSize": 21},
"layer": [
{"data": {"name": "grid"}, "mark": {"type": "rule", "color": "#c8c8c8", "strokeWidth": 1},
 "encoding": {
 "y": {"field": "g", "type": "quantitative", "scale": {"domain": [-2,2], "nice": false, "zero": false}, "axis": {"values": [-2,-1.5,-1,-0.5,0,0.5,1,1.5,2], "grid": false, "labelExpr": "replace(toString(datum.value), '.', ',')", "ticks": false, "labelPadding": 8, "labelFont": "Liberation Sans", "labelFontSize": 11, "title": "Relative intensity", "titleFont": "Liberation Serif", "titleFontSize": 18, "titleFontWeight": "normal", "titlePadding": -2}},
 "x": {"datum": 0, "type": "quantitative", "scale": {"domain": [0,14], "nice": false}, "axis": {"values": [0,2,4,6,8,10,12,14], "offset": -131, "grid": false, "domain": false, "labelFont": "Liberation Sans", "labelFontSize": 12, "labelPadding": 4, "tickSize": 4, "title": "time (µs)", "titleAnchor": "end", "titleFont": "Liberation Serif", "titleFontSize": 16, "titleFontWeight": "bold", "titlePadding": 1}},
 "x2": {"datum": 14}}},
{"data": {"name": "br"},
 "transform": [{"fold": ["Collimated","Donut","Converging"], "as": ["s","v"]}],
 "mark": {"type": "line", "clip": true, "strokeWidth": 1.8},
 "encoding": {
 "x": {"field": "t", "type": "quantitative", "scale": {"domain": [0,14], "nice": false}, "axis": {"values": [0,2,4,6,8,10,12,14], "offset": -131, "grid": false, "domain": false, "labelFont": "Liberation Sans", "labelFontSize": 12, "labelPadding": 4, "tickSize": 4, "title": "time (µs)", "titleAnchor": "end", "titleFont": "Liberation Serif", "titleFontSize": 16, "titleFontWeight": "bold", "titlePadding": 1}},
 "y": {"field": "v", "type": "quantitative", "scale": {"domain": [-2,2], "nice": false, "zero": false}, "axis": {"values": [-2,-1.5,-1,-0.5,0,0.5,1,1.5,2], "grid": false, "labelExpr": "replace(toString(datum.value), '.', ',')", "ticks": false, "labelPadding": 8, "labelFont": "Liberation Sans", "labelFontSize": 11, "title": "Relative intensity", "titleFont": "Liberation Serif", "titleFontSize": 18, "titleFontWeight": "normal", "titlePadding": -2}},
 "color": {"field": "s", "type": "nominal", "title": null, "scale": {"domain": ["Collimated","Donut","Converging"], "range": ["#3d6db0","#b83c3c","#77a03c"]}, "legend": {"orient": "none", "legendX": 177, "legendY": 174, "symbolOffset": 8, "labelFont": "Liberation Sans", "labelFontSize": 14, "rowPadding": 11.5}}
 }}
]
}
]
}
